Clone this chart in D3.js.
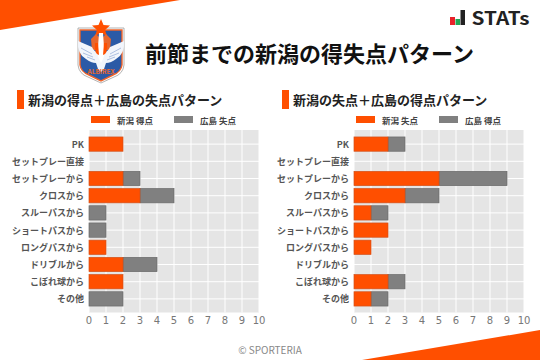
<!DOCTYPE html>
<html>
<head>
<meta charset="utf-8">
<script src="https://cdn.jsdelivr.net/npm/d3@7"></script>
<style>
html, body { margin: 0; padding: 0; background: #fff; }
svg { display: block; }
text { font-family: "Noto Sans CJK JP", "Noto Sans", sans-serif; }
</style>
</head>
<body>
<svg id="chart" width="540" height="360"></svg>
<script>
var categories = ["PK", "セットプレー直接", "セットプレーから", "クロスから", "スルーパスから", "ショートパスから", "ロングパスから", "ドリブルから", "こぼれ球から", "その他"];
var leftOrange = [2, 0, 2, 3, 0, 0, 1, 2, 2, 0];
var leftGray = [0, 0, 1, 2, 1, 1, 0, 2, 0, 2];
var rightOrange = [2, 0, 5, 3, 1, 2, 1, 0, 2, 1];
var rightGray = [1, 0, 4, 2, 1, 0, 0, 0, 1, 1];
var xTicks = [0, 1, 2, 3, 4, 5, 6, 7, 8, 9, 10];

var orange = "#ff4f00";
var gray = "#808080";
var svg = d3.select("#chart");

// corner bands
svg.append("path").attr("d", "M0,0H180L0,30Z").attr("fill", orange);
svg.append("path").attr("d", "M540,330V360H362Z").attr("fill", orange);

// title
svg.append("text").attr("x", 145).attr("y", 62)
    .attr("font-size", 22).attr("font-weight", 700).attr("fill", "#111")
    .text("前節までの新潟の得失点パターン");

svg.append("text").attr("x", 270).attr("y", 354).attr("text-anchor", "middle")
    .attr("font-size", 10).attr("fill", "#888").text("© SPORTERIA");

// STATs logo
var logo = svg.append("g").attr("transform", "translate(450,10)");
logo.append("rect").attr("x", 0).attr("y", 7).attr("width", 5).attr("height", 8).attr("fill", "#e8222a");
logo.append("rect").attr("x", 5.5).attr("y", 9).attr("width", 4.5).attr("height", 6).attr("fill", "#1fa855");
logo.append("rect").attr("x", 10.5).attr("y", 0).attr("width", 4.5).attr("height", 15).attr("fill", "#222");
logo.append("text").attr("x", 21.5).attr("y", 14.5).attr("font-size", 18).attr("font-weight", 700)
    .attr("textLength", 58).attr("lengthAdjust", "spacingAndGlyphs")
    .attr("font-family", "'Noto Sans', sans-serif").attr("fill", "#222").text("STATs");

// club crest
var crest = svg.append("g").attr("transform", "translate(78,19)");
crest.append("path").attr("d", "M0,9H46V46Q45,55 36,58L23,64L10,58Q1,55 0,46Z")
    .attr("fill", "#fff").attr("stroke", "#a0a0a0").attr("stroke-width", 0.8);
crest.append("path").attr("d", "M2,11H44V46Q43,53 35,56L23,62L11,56Q3,53 2,46Z")
    .attr("fill", "#2b5aa6").attr("stroke", "#f0642a").attr("stroke-width", 1.4);
crest.append("path").attr("d", "M23,0L25.5,6L32,6.5L27,11L29,17L23,14L17,17L19,11L14,6.5L20.5,6Z").attr("fill", orange);
crest.append("path").attr("d", "M13,20L18,15L22,19V31H14Z M33,20L28,15L24,19V31H32Z").attr("fill", "#e8662c");
crest.append("path").attr("d", "M0,22L14,28Q16,33 20,33H26Q30,33 32,28L46,22Q47,35 38,40Q33,44 28,44L26,50L23,53L20,50L18,44Q13,44 8,40Q-1,35 0,22Z").attr("fill", "#f2f5fb");
crest.append("path").attr("d", "M3,29L14,35M5,34L15,38M9,38L17,41M43,29L32,35M41,34L31,38M37,38L29,41")
    .attr("fill", "none").attr("stroke", "#8fa9d6").attr("stroke-width", 0.7);
crest.append("path").attr("d", "M21,14H25L26,28Q27,36 25,40L23,44L21,40Q19,36 20,28Z").attr("fill", "#fff");
crest.append("path").attr("d", "M17,24Q16,35 21,36L20,24Z M29,24Q30,35 25,36L26,24Z").attr("fill", orange);
crest.append("text").attr("x", 23).attr("y", 55).attr("text-anchor", "middle")
    .attr("font-size", 6.5).attr("font-weight", 700).attr("fill", "#e8662c").text("ALBIREX");

function drawPanel(x0, titleText, legendA, legendB, aVals, bVals) {
    var g = svg.append("g");
    var x = d3.scaleLinear().domain([0, 10]).range([x0, x0 + 170]);
    var y = d3.scaleBand().domain(categories).range([135.5, 307.5]).paddingInner(0.17).paddingOuter(0.085);
    var plotTop = 130, plotBottom = 312.5;

    // heading
    g.append("rect").attr("x", x0 - 72).attr("y", 90).attr("width", 7).attr("height", 19).attr("fill", orange);
    g.append("text").attr("x", x0 - 61).attr("y", 104.5).attr("font-size", 13).attr("font-weight", 700)
        .attr("fill", "#222").text(titleText);

    // legend
    g.append("rect").attr("x", x0 + 2).attr("y", 116).attr("width", 19).attr("height", 7).attr("fill", orange);
    g.append("text").attr("x", x0 + 28).attr("y", 123.5).attr("font-size", 8.5).attr("font-weight", 700).attr("fill", "#444").text(legendA);
    g.append("rect").attr("x", x0 + 85).attr("y", 116).attr("width", 19).attr("height", 7).attr("fill", gray);
    g.append("text").attr("x", x0 + 111).attr("y", 123.5).attr("font-size", 8.5).attr("font-weight", 700).attr("fill", "#444").text(legendB);

    // plot background and grid
    g.append("rect").attr("x", x(0)).attr("y", plotTop).attr("width", x(10) - x(0)).attr("height", plotBottom - plotTop).attr("fill", "#e5e5e5");
    g.selectAll(".vgrid").data(xTicks).enter().append("line")
        .attr("x1", d => x(d)).attr("x2", d => x(d)).attr("y1", plotTop).attr("y2", plotBottom)
        .attr("stroke", "#fff").attr("stroke-width", 1);
    g.selectAll(".hgrid").data(categories).enter().append("line")
        .attr("x1", x(0)).attr("x2", x(10))
        .attr("y1", d => y(d) + y.bandwidth() / 2).attr("y2", d => y(d) + y.bandwidth() / 2)
        .attr("stroke", "#fff").attr("stroke-width", 1);

    // bars
    g.selectAll(".barB").data(categories).enter().append("rect")
        .attr("x", (d, i) => x(aVals[i]))
        .attr("y", d => y(d))
        .attr("width", (d, i) => x(bVals[i]) - x(0))
        .attr("height", y.bandwidth())
        .attr("fill", gray)
        .attr("stroke", "#6a6a6a").attr("stroke-width", (d, i) => bVals[i] ? 0.7 : 0);
    g.selectAll(".barA").data(categories).enter().append("rect")
        .attr("x", x(0))
        .attr("y", d => y(d))
        .attr("width", (d, i) => x(aVals[i]) - x(0))
        .attr("height", y.bandwidth())
        .attr("fill", orange)
        .attr("stroke", "#d2521c").attr("stroke-width", (d, i) => aVals[i] ? 0.7 : 0);

    // axes
    var xAxis = g.append("g").attr("transform", "translate(-0.5," + plotBottom + ")")
        .call(d3.axisBottom(x).tickValues(xTicks).tickSize(0).tickPadding(4));
    xAxis.select(".domain").remove();
    xAxis.selectAll("text").attr("font-size", 10).attr("fill", "#777").style("font-family", "'DejaVu Sans', sans-serif");

    var yAxis = g.append("g").attr("transform", "translate(" + (x0 - 5) + ",0.7)")
        .call(d3.axisLeft(y).tickSize(0).tickPadding(0));
    yAxis.select(".domain").remove();
    yAxis.selectAll("text").attr("font-size", 9).attr("font-weight", 700).attr("fill", "#555").style("font-family", "'Noto Sans CJK JP', sans-serif");
}

drawPanel(89, "新潟の得点＋広島の失点パターン", "新潟 得点", "広島 失点", leftOrange, leftGray);
drawPanel(354, "新潟の失点＋広島の得点パターン", "新潟 失点", "広島 得点", rightOrange, rightGray);
</script>
</body>
</html>
